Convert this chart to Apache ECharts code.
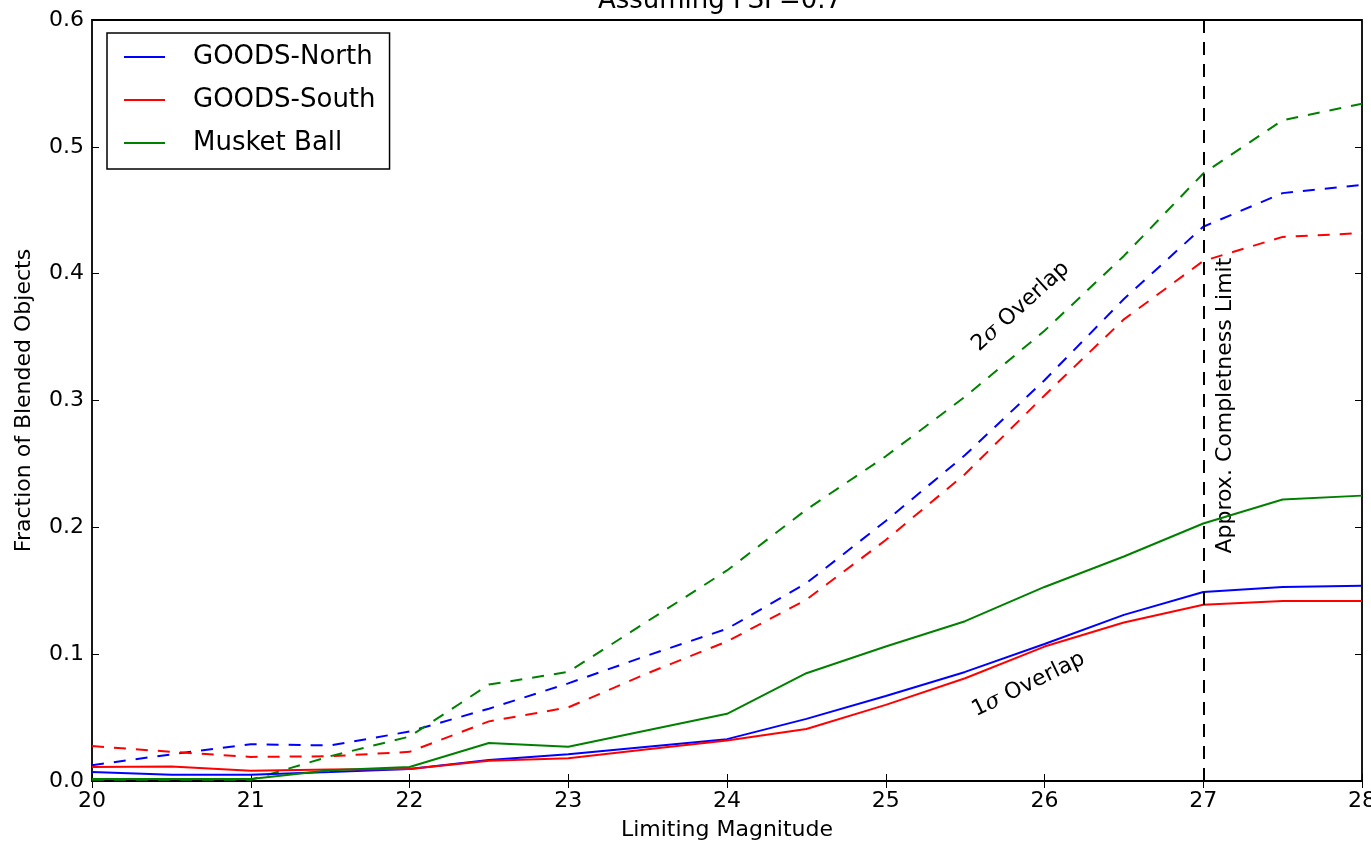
<!DOCTYPE html>
<html>
<head>
<meta charset="utf-8">
<script src="https://cdn.jsdelivr.net/npm/echarts@6/dist/echarts.min.js"></script>
<style>
  html, body { margin: 0; padding: 0; background: #fff; }
  #main { width: 1371px; height: 847px; }
</style>
</head>
<body>
<div id="main"></div>
<script>
// limiting magnitude samples
const magnitudes = [20, 20.5, 21, 21.5, 22, 22.5, 23, 23.5, 24, 24.5, 25, 25.5, 26, 26.5, 27, 27.5, 28];

// 1 sigma overlap (solid)
const northOne = [0.007, 0.005, 0.005, 0.007, 0.0095, 0.0165, 0.021, 0.027, 0.033, 0.049, 0.067, 0.086, 0.108, 0.131, 0.149, 0.153, 0.154];
const southOne = [0.011, 0.0115, 0.008, 0.009, 0.0095, 0.016, 0.018, 0.025, 0.032, 0.041, 0.06, 0.081, 0.106, 0.125, 0.139, 0.142, 0.142];
const musketOne = [0.0015, 0.0015, 0.0015, 0.0085, 0.011, 0.030, 0.027, 0.040, 0.053, 0.085, 0.106, 0.126, 0.153, 0.177, 0.203, 0.222, 0.225];

// 2 sigma overlap (dashed)
const northTwo = [0.0125, 0.021, 0.029, 0.028, 0.039, 0.057, 0.077, 0.099, 0.12, 0.156, 0.205, 0.257, 0.316, 0.38, 0.437, 0.4635, 0.47];
const southTwo = [0.0275, 0.023, 0.019, 0.0195, 0.023, 0.047, 0.058, 0.085, 0.11, 0.143, 0.19, 0.242, 0.304, 0.364, 0.41, 0.429, 0.432];
const musketTwo = [0.001, 0.001, 0.001, 0.0195, 0.035, 0.076, 0.086, 0.126, 0.166, 0.214, 0.256, 0.303, 0.355, 0.414, 0.479, 0.521, 0.534];

const completenessLimit = 27;

const FONT = "'DejaVu Sans', sans-serif";
const BLUE = '#0000ff', RED = '#ff0000', GREEN = '#008000';

function pairs(vals) {
  return magnitudes.map((m, i) => [m, vals[i]]);
}

function line(name, vals, color, dashed) {
  return {
    name: name,
    type: 'line',
    data: pairs(vals),
    symbol: 'none',
    silent: true,
    lineStyle: { color: color, width: 2, type: dashed ? [12, 10] : 'solid' },
    itemStyle: { color: color }
  };
}

const chart = echarts.init(document.getElementById('main'));

const hiddenAxis = {
  axisLabel: { show: false },
  axisLine: { show: false },
  splitLine: { show: false },
  axisTick: { inside: true, length: 7, lineStyle: { color: '#000', width: 1 } }
};

const series = [
  line('2σ GOODS-North', northTwo, BLUE, true),
  line('2σ GOODS-South', southTwo, RED, true),
  line('2σ Musket Ball', musketTwo, GREEN, true),
  line('GOODS-North', northOne, BLUE, false),
  line('GOODS-South', southOne, RED, false),
  line('Musket Ball', musketOne, GREEN, false)
];

// vertical completeness limit
series[0].markLine = {
  silent: true,
  symbol: 'none',
  label: { show: false },
  lineStyle: { color: '#000', width: 2, type: [13, 9] },
  data: [{ xAxis: completenessLimit }]
};

chart.setOption({
  animation: false,
  backgroundColor: '#fff',
  textStyle: { fontFamily: FONT },
  grid: {
    left: 92, right: 9, top: 20, bottom: 66,
    containLabel: false, outerBoundsMode: 'none',
    show: true, borderColor: '#000', borderWidth: 1.8, backgroundColor: 'transparent'
  },
  legend: {
    data: ['GOODS-North', 'GOODS-South', 'Musket Ball'],
    orient: 'vertical',
    left: 107, top: 33,
    padding: [11, 14, 13, 17],
    itemGap: 17,
    itemWidth: 41,
    itemHeight: 2,
    icon: 'rect',
    borderColor: '#000',
    borderWidth: 1.5,
    backgroundColor: '#fff',
    selectedMode: false,
    textStyle: { fontFamily: FONT, fontSize: 26, color: '#000', padding: [0, 0, 0, 23] }
  },
  xAxis: [{
    type: 'value', min: 20, max: 28, interval: 1,
    name: 'Limiting Magnitude', nameLocation: 'middle', nameGap: 38,
    nameTextStyle: { fontFamily: FONT, fontSize: 22, color: '#000' },
    axisLine: { show: false },
    splitLine: { show: false },
    axisTick: { inside: true, length: 7, lineStyle: { color: '#000', width: 1 } },
    axisLabel: { fontFamily: FONT, fontSize: 22, color: '#000', margin: 9 }
  }, Object.assign({ type: 'value', min: 20, max: 28, interval: 1, position: 'top' }, hiddenAxis)],
  yAxis: [{
    type: 'value', min: 0, max: 0.6, interval: 0.1,
    name: 'Fraction of Blended Objects', nameLocation: 'middle', nameGap: 57, nameRotate: 90,
    nameTextStyle: { fontFamily: FONT, fontSize: 22, color: '#000' },
    axisLine: { show: false },
    splitLine: { show: false },
    axisTick: { inside: true, length: 7, lineStyle: { color: '#000', width: 1 } },
    axisLabel: { fontFamily: FONT, fontSize: 22, color: '#000', margin: 8, formatter: v => v.toFixed(1) }
  }, Object.assign({ type: 'value', min: 0, max: 0.6, interval: 0.1, position: 'right' }, hiddenAxis)],
  series: series
});

// annotations placed in data coordinates
function at(x, y) {
  return chart.convertToPixel({ gridIndex: 0 }, [x, y]);
}
const p2 = at(25.85, 0.374);
const p1 = at(25.9, 0.076);
const pc = at(27.14, 0.296);
const sigma = { fontFamily: 'DejaVu Serif', fontStyle: 'italic', fontSize: 22, fill: '#000' };

chart.setOption({
  graphic: [
    {
      type: 'text', x: 720, y: 14,
      style: { text: 'Assuming FSF=0.7', font: '26px ' + FONT, fill: '#000', align: 'center', verticalAlign: 'bottom' }
    },
    {
      type: 'text', x: p2[0], y: p2[1], rotation: 42 * Math.PI / 180,
      style: { text: '2{s|σ} Overlap', font: '22px ' + FONT, fill: '#000', align: 'center', verticalAlign: 'middle', rich: { s: sigma } }
    },
    {
      type: 'text', x: p1[0], y: p1[1], rotation: 26 * Math.PI / 180,
      style: { text: '1{s|σ} Overlap', font: '22px ' + FONT, fill: '#000', align: 'center', verticalAlign: 'middle', rich: { s: sigma } }
    },
    {
      type: 'text', x: pc[0], y: pc[1], rotation: Math.PI / 2,
      style: { text: 'Approx. Completness Limit', font: '22px ' + FONT, fill: '#000', align: 'center', verticalAlign: 'middle' }
    }
  ]
});
</script>
</body>
</html>
